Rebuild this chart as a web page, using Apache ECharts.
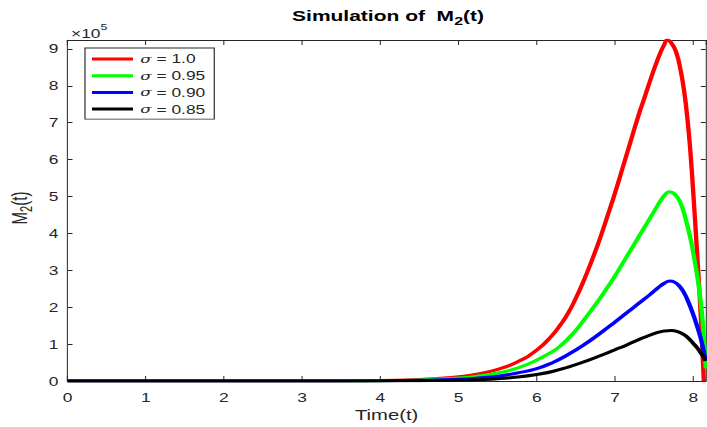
<!DOCTYPE html>
<html>
<head>
<meta charset="utf-8">
<script src="https://cdn.jsdelivr.net/npm/echarts@6/dist/echarts.min.js"></script>
<style>
  html, body { margin: 0; padding: 0; background: #fff; }
  #frame { width: 707px; height: 427px; overflow: hidden; position: relative; }
  /* the figure is laid out on a narrower canvas and widened to the frame */
  #chart { width: 488px; height: 427px; transform-origin: 0 0; transform: scaleX(1.44877); }
</style>
</head>
<body>
<div id="frame"><div id="chart"></div></div>
<script>
// Simulated M2(t) for four fractional orders sigma
const seriesNames = ['σ = 1.0', 'σ = 0.95', 'σ = 0.90', 'σ = 0.85'];
const seriesColors = ['#ff0000', '#00ff00', '#0000ff', '#000000'];

// sigma = 1.0
const timeS100 = [0, 1, 2, 3, 4, 4.5, 4.76, 5.0, 5.25, 5.5, 5.75, 6.0, 6.2, 6.3, 6.4, 6.5, 6.6, 6.7, 6.8, 6.9, 7.0, 7.1, 7.2, 7.3, 7.38, 7.45, 7.52, 7.58, 7.63, 7.667, 7.72, 7.78, 7.84, 7.89, 7.93, 7.96, 8.0, 8.03, 8.065, 8.1, 8.135];
const m2S100 = [0, 0, 0, 300, 1700, 4500, 7500, 12000, 19500, 32000, 52000, 84000, 125000, 152000, 184000, 225000, 272000, 325000, 382000, 445000, 510000, 580000, 650000, 720000, 770000, 815000, 857000, 890000, 912000, 924000, 916000, 892000, 840000, 775000, 700000, 630000, 510000, 410000, 290000, 160000, 0];

// sigma = 0.95
const timeS095 = [0, 1, 2, 3, 4, 4.5, 5.0, 5.25, 5.5, 5.75, 6.0, 6.2, 6.3, 6.4, 6.5, 6.6, 6.7, 6.8, 6.9, 7.0, 7.1, 7.2, 7.3, 7.4, 7.5, 7.58, 7.64, 7.69, 7.74, 7.8, 7.86, 7.92, 7.97, 8.01, 8.05, 8.09, 8.12, 8.14, 8.16];
const m2S095 = [0, 0, 0, 200, 1200, 3300, 8400, 13700, 22000, 35000, 57000, 80000, 95000, 115000, 138000, 165000, 193000, 222000, 253000, 285000, 320000, 355000, 390000, 425000, 460000, 488000, 505000, 513000, 510000, 497000, 470000, 425000, 380000, 335000, 285000, 225000, 160000, 100000, 35000];

// sigma = 0.90
const timeS090 = [0, 1, 2, 3, 4, 4.5, 5.0, 5.25, 5.5, 5.75, 6.0, 6.2, 6.4, 6.6, 6.8, 7.0, 7.15, 7.3, 7.45, 7.55, 7.63, 7.7, 7.76, 7.82, 7.88, 7.94, 8.0, 8.05, 8.09, 8.13, 8.16];
const m2S090 = [0, 0, 0, 100, 700, 2000, 5000, 8300, 13000, 22000, 34000, 50000, 72000, 98000, 128000, 160000, 185000, 210000, 235000, 253000, 265000, 271000, 268000, 258000, 240000, 213000, 180000, 148000, 120000, 85000, 55000];

// sigma = 0.85
const timeS085 = [0, 1, 2, 3, 4, 4.5, 5.0, 5.25, 5.5, 5.75, 6.0, 6.2, 6.4, 6.6, 6.8, 7.0, 7.15, 7.3, 7.45, 7.55, 7.63, 7.72, 7.8, 7.88, 7.94, 8.0, 8.05, 8.1, 8.16];
const m2S085 = [0, 0, 0, 50, 400, 1100, 2500, 4000, 6500, 11000, 18000, 26000, 38000, 52000, 68000, 85000, 98000, 112000, 125000, 132000, 136000, 137000, 134000, 126000, 116000, 102000, 90000, 75000, 55000];

const xTicks = [0, 1, 2, 3, 4, 5, 6, 7, 8];
const yTicks = [0, 1, 2, 3, 4, 5, 6, 7, 8, 9]; // in units of 10^5

const times = [timeS100, timeS095, timeS090, timeS085];
const values = [m2S100, m2S095, m2S090, m2S085];

const SX = 707 / 488;          // horizontal widening of the drawing
const hx = px => px / SX;      // frame pixels -> drawing units (horizontal)

const TXT = '#262626';
const FONT = 'Liberation Sans, Arial, Helvetica, sans-serif';

const chart = echarts.init(document.getElementById('chart'), null, { renderer: 'svg' });

function pairs(ts, vs) {
  return ts.map((t, i) => [t, vs[i]]);
}

const series = seriesNames.map((name, k) => ({
  name: name,
  type: 'line',
  data: pairs(times[k], values[k]),
  showSymbol: false,
  smooth: 0.5,
  lineStyle: { color: seriesColors[k], width: 3 },
  itemStyle: { color: seriesColors[k] },
  xAxisIndex: 0,
  yAxisIndex: 0,
  z: 2 + k
}));

const baseX = {
  type: 'value', min: 0, max: 8.16, interval: 1,
  splitLine: { show: false },
  axisLine: { show: true, onZero: false, lineStyle: { color: TXT, width: 1 } },
  axisTick: { show: true, inside: true, length: 5, lineStyle: { color: TXT, width: 0.7 } }
};
const baseY = {
  type: 'value', min: 0, max: 924000, interval: 100000,
  splitLine: { show: false },
  axisLine: { show: true, onZero: false, lineStyle: { color: TXT, width: 0.7 } },
  axisTick: { show: true, inside: true, length: hx(5), lineStyle: { color: TXT, width: 1 } }
};

chart.setOption({
  animation: false,
  backgroundColor: '#ffffff',
  grid: { left: hx(67.5), right: hx(1.2), top: 40, bottom: 42.5, containLabel: false },
  xAxis: [
    Object.assign({}, baseX, {
      position: 'bottom',
      axisLabel: {
        color: TXT, fontSize: 12, fontFamily: FONT, margin: 10,
        showMaxLabel: false,
        formatter: v => (xTicks.indexOf(v) >= 0 ? String(v) : '')
      },
      name: 'Time(t)',
      nameLocation: 'middle',
      nameGap: 24,
      nameTextStyle: { color: TXT, fontSize: 14, fontFamily: FONT }
    }),
    Object.assign({}, baseX, { position: 'top', axisLabel: { show: false } })
  ],
  yAxis: [
    Object.assign({}, baseY, {
      position: 'left',
      axisLabel: {
        color: TXT, fontSize: 12, fontFamily: FONT, margin: hx(9),
        showMaxLabel: false,
        formatter: v => {
          const u = Math.round(v / 1e5 * 1000) / 1000;
          return yTicks.indexOf(u) >= 0 ? String(u) : '';
        }
      }
    }),
    Object.assign({}, baseY, { position: 'right', axisLabel: { show: false } })
  ],
  legend: {
    show: true,
    data: seriesNames,
    orient: 'vertical',
    left: hx(85),
    top: 48,
    icon: 'rect',
    itemWidth: hx(41),
    itemHeight: 3,
    itemGap: 2.7,
    padding: [4, hx(9), 3, hx(7)],
    backgroundColor: '#ffffff',
    borderColor: TXT,
    borderWidth: 0.8,
    borderRadius: 0,
    selectedMode: false,
    formatter: name => '{i|σ}' + name.slice(1),
    textStyle: {
      color: TXT, fontSize: 12, fontFamily: FONT, lineHeight: 14,
      rich: {
        i: { fontStyle: 'italic', fontFamily: 'DejaVu Serif, serif', fontSize: 11.5, color: TXT }
      }
    }
  },
  graphic: [
    {
      type: 'text', x: hx(388), y: 9, z: 10,
      style: {
        text: '{a|Simulation of  M}{s|2}{a|(t)}',
        align: 'center',
        rich: {
          a: { fontSize: 14.5, fontWeight: 'bold', fontFamily: FONT, fill: '#000', lineHeight: 18, verticalAlign: 'top', padding: [0, 0, 5, 0] },
          s: { fontSize: 11, fontWeight: 'bold', fontFamily: FONT, fill: '#000', lineHeight: 9, verticalAlign: 'bottom' }
        }
      }
    },
    {
      type: 'text', x: hx(22), y: 208, rotation: Math.PI / 2, z: 10,
      style: {
        text: '{a|M}{s|2}{a|(t)}',
        align: 'center',
        verticalAlign: 'middle',
        rich: {
          a: { fontSize: 15, fontFamily: FONT, fill: TXT, lineHeight: 18, verticalAlign: 'top', padding: [0, 0, 5, 0] },
          s: { fontSize: 11, fontFamily: FONT, fill: TXT, lineHeight: 9, verticalAlign: 'bottom' }
        }
      }
    },
    {
      type: 'text', x: hx(71), y: 22, z: 10,
      style: {
        text: '{a|×10}{p|5}',
        rich: {
          a: { fontSize: 12, fontFamily: FONT, fill: TXT, lineHeight: 18, verticalAlign: 'bottom' },
          p: { fontSize: 8.5, fontFamily: FONT, fill: TXT, lineHeight: 10, verticalAlign: 'top' }
        }
      }
    }
  ],
  series: series
});
</script>
</body>
</html>
